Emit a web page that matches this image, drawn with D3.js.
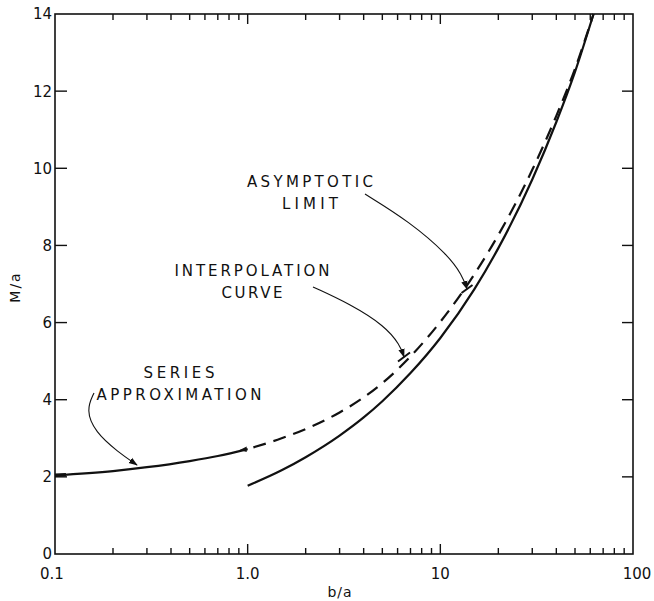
<!DOCTYPE html>
<html><head><meta charset="utf-8">
<script src="https://cdn.jsdelivr.net/npm/d3@7"></script>
<style>
body{margin:0;background:#fff;}
text{font-family:"DejaVu Sans","Liberation Sans",sans-serif;fill:#111;}
</style></head>
<body><svg id="c" width="654" height="601"></svg>
<script>
// ---- data ----
const seriesX = [0.1, 0.2, 0.3, 0.5, 0.7, 1.0];
const seriesY = [2.04, 2.15, 2.25, 2.41, 2.54, 2.72];

const interpX = [1.0, 1.5, 2, 3, 4, 5, 7, 10, 15, 20, 30, 40, 50, 62.4];
const interpY = [2.72, 3.0, 3.24, 3.67, 4.06, 4.43, 5.12, 6.02, 7.25, 8.27, 9.96, 11.36, 12.58, 14.0];

const asympX = [1.0, 1.5, 2, 3, 4, 5, 7, 10, 15, 20, 30, 40, 50, 62.4];
const asympY = [1.77, 2.17, 2.51, 3.07, 3.54, 3.96, 4.69, 5.60, 6.86, 7.93, 9.71, 11.2, 12.5, 14.0];

const xTickLabels = ["0.1", "1.0", "10", "100"];
const xTickValues = [0.1, 1, 10, 100];
const yTickValues = [0, 2, 4, 6, 8, 10, 12, 14];

const annotationText = [
  ["ASYMPTOTIC", "LIMIT"],
  ["INTERPOLATION", "CURVE"],
  ["SERIES", "APPROXIMATION"]
];

// ---- layout (annotation placement) ----
const annotationLayout = [
  {x: 310, y: 186.5, w: [126, 56]},
  {x: 252, y: 275.5, w: [155, 61]},
  {x: 179, y: 377.5, w: [71, 165]}
];

const svg = d3.select("#c");
const L = 55, R = 633, T = 14, B = 554;
const x = d3.scaleLog().domain([0.1, 100]).range([L, R]);
const y = d3.scaleLinear().domain([0, 14]).range([B, T]);

const g = svg.append("g");

// frame
g.append("rect").attr("x", L).attr("y", T).attr("width", R - L).attr("height", B - T)
  .attr("fill", "none").attr("stroke", "#111").attr("stroke-width", 1.6);

// x ticks (log minor/major)
const xMinor = [];
[0.1, 1, 10].forEach(d => { for (let k = 2; k <= 9; k++) xMinor.push(d * k); });
const xMajor = [1, 10];
function drawXTicks(vals, len) {
  g.selectAll(null).data(vals).enter().append("line")
    .attr("x1", d => x(d)).attr("x2", d => x(d))
    .attr("y1", B).attr("y2", B - len).attr("stroke", "#111").attr("stroke-width", 1.4);
  g.selectAll(null).data(vals).enter().append("line")
    .attr("x1", d => x(d)).attr("x2", d => x(d))
    .attr("y1", T).attr("y2", T + len).attr("stroke", "#111").attr("stroke-width", 1.4);
}
drawXTicks(xMinor, 6);
drawXTicks(xMajor, 10);

// y ticks
const yInner = yTickValues.filter(v => v > 0 && v < 14);
g.selectAll(null).data(yInner).enter().append("line")
  .attr("x1", L).attr("x2", L + 12).attr("y1", d => y(d)).attr("y2", d => y(d))
  .attr("stroke", "#111").attr("stroke-width", 1.4);
g.selectAll(null).data(yInner).enter().append("line")
  .attr("x1", R).attr("x2", R - 11).attr("y1", d => y(d)).attr("y2", d => y(d))
  .attr("stroke", "#111").attr("stroke-width", 1.4);

// tick labels
g.selectAll(null).data(yTickValues).enter().append("text")
  .attr("x", L - 3).attr("y", d => y(d)).attr("dy", "0.36em")
  .attr("text-anchor", "end").attr("font-size", 15).text(d => d);
g.selectAll(null).data(xTickValues).enter().append("text")
  .attr("x", (d, i) => x(d) + (i === 0 ? -3 : i === 3 ? 4 : 0)).attr("y", 579)
  .attr("text-anchor", "middle").attr("font-size", 15).text((d, i) => xTickLabels[i]);

// axis titles
g.append("text").attr("x", 340).attr("y", 597).attr("text-anchor", "middle")
  .attr("font-size", 14).attr("letter-spacing", "1px").text("b/a");
g.append("text").attr("transform", "translate(20,287) rotate(-90)")
  .attr("text-anchor", "middle").attr("font-size", 14).attr("letter-spacing", "2px").text("M/a");

// curves
const line = d3.line().x(d => x(d[0])).y(d => y(d[1])).curve(d3.curveMonotoneX);
const zip = (a, b) => a.map((v, i) => [v, b[i]]);

g.append("path").attr("d", line(zip(seriesX, seriesY)))
  .attr("fill", "none").attr("stroke", "#111").attr("stroke-width", 2.2);
g.append("path").attr("d", line(zip(interpX, interpY)))
  .attr("fill", "none").attr("stroke", "#111").attr("stroke-width", 2.2)
  .attr("stroke-dasharray", "13,8").attr("stroke-dashoffset", -6);
g.append("path").attr("d", line(zip(asympX, asympY)))
  .attr("fill", "none").attr("stroke", "#111").attr("stroke-width", 2.2);

// thick start mark on series
g.append("line").attr("x1", x(0.1)).attr("x2", x(0.1) + 11)
  .attr("y1", y(seriesY[0])).attr("y2", y(seriesY[0]) - 0.6)
  .attr("stroke", "#111").attr("stroke-width", 3.5);

// labels
annotationText.forEach((lines, k) => {
  const lay = annotationLayout[k];
  lines.forEach((t, i) => {
    g.append("text").attr("x", lay.x).attr("y", lay.y + i * 22)
      .attr("text-anchor", "middle").attr("font-size", 15)
      .attr("textLength", lay.w[i]).attr("lengthAdjust", "spacing").text(t);
  });
});

// annotation arrows
const defs = svg.append("defs");
defs.append("marker").attr("id", "ah").attr("viewBox", "0 0 10 10")
  .attr("refX", 9).attr("refY", 5).attr("markerWidth", 9).attr("markerHeight", 9)
  .attr("markerUnits", "userSpaceOnUse").attr("orient", "auto")
  .append("path").attr("d", "M0,1.5 L10,5 L0,8.5 Z").attr("fill", "#111");

function arrow(pts, bar) {
  const p = d3.line().curve(d3.curveBasis)(pts);
  g.append("path").attr("d", p).attr("fill", "none").attr("stroke", "#111")
    .attr("stroke-width", 1.1).attr("marker-end", "url(#ah)");
  if (bar) {
    const [tx, ty] = pts[pts.length - 1];
    g.append("line").attr("x1", tx - bar[0]).attr("y1", ty - bar[1])
      .attr("x2", tx + bar[0]).attr("y2", ty + bar[1])
      .attr("stroke", "#111").attr("stroke-width", 2);
  }
}
// series approximation arrow
arrow([[94, 393], [86, 410], [95, 432], [118, 452], [137, 465]], null);
// interpolation curve arrow
arrow([[313, 287], [350, 304], [385, 326], [400, 345], [404, 357]], [6, -4.5]);
// asymptotic limit arrow
arrow([[365, 194], [410, 222], [448, 255], [462, 275], [467, 289]], [5.5, -4]);
// small arrow mark at series end, pointing back along the line
const ex = x(1) - 1, ey = y(seriesY[seriesY.length - 1]);
g.append("path").attr("d", `M${ex - 7},${ey + 0.8} L${ex},${ey - 2.5} L${ex},${ey + 3} Z`)
  .attr("fill", "#111");
</script></body></html>
